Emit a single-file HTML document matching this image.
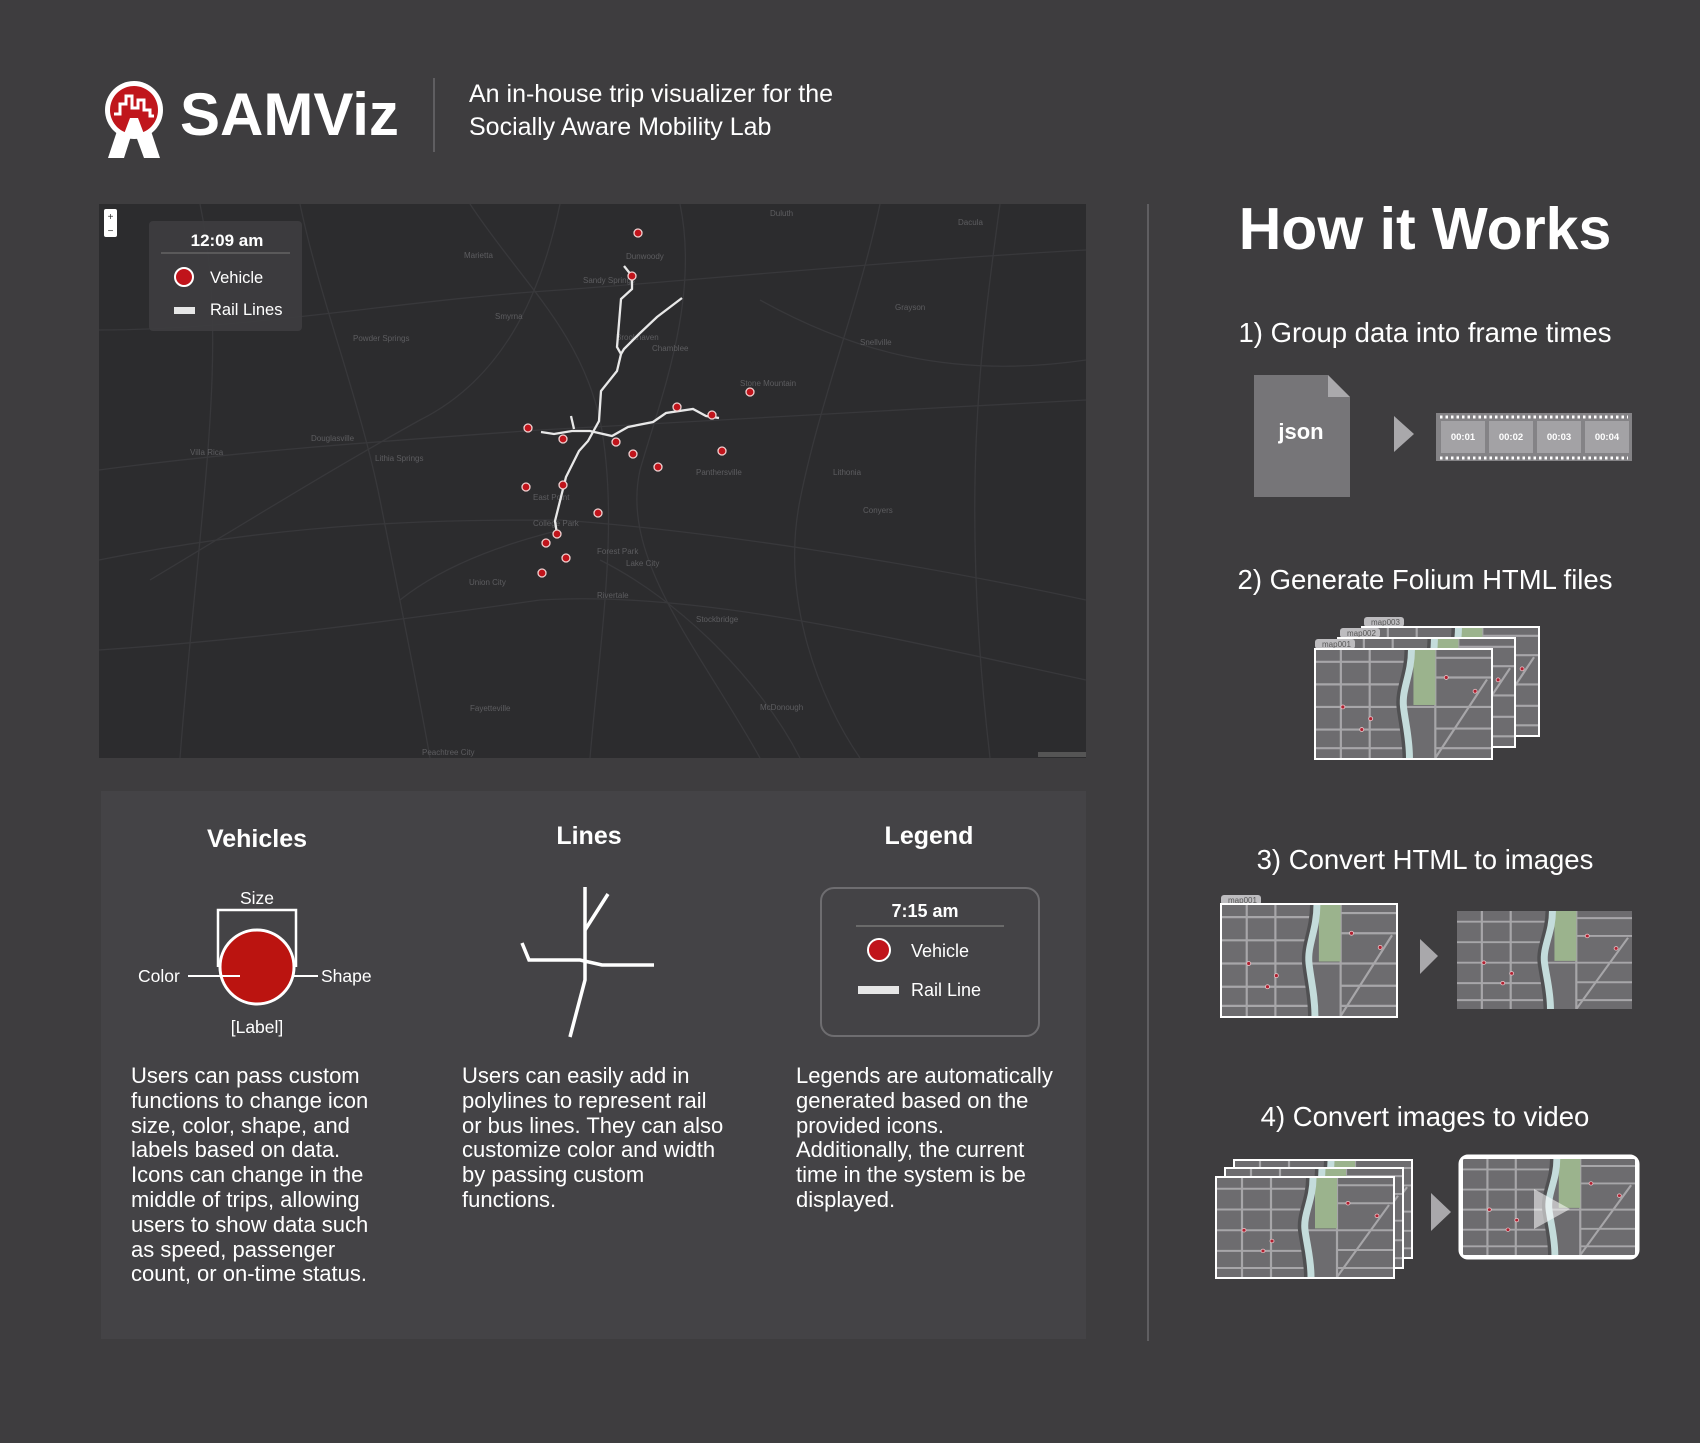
<!DOCTYPE html>
<html><head><meta charset="utf-8"><style>
body{margin:0;width:1700px;height:1443px;background:#3e3d3f;font-family:"Liberation Sans",Arial,sans-serif;color:#fff;position:relative;overflow:hidden}
.a{position:absolute}
.step{position:absolute;left:1160px;width:530px;text-align:center;font-size:27.5px}
.para{position:absolute;font-size:22px;line-height:24.8px;top:1064px}
.h{position:absolute;font-size:25px;font-weight:bold;text-align:center;width:200px}
</style></head><body>
<svg width="0" height="0" style="position:absolute">
<defs>
<symbol id="mini" viewBox="0 0 176 110" preserveAspectRatio="none">
<rect x="0" y="0" width="176" height="110" fill="#6d6c6f"/>
<g stroke="#a7a6a9" stroke-width="2.2" fill="none">
<line x1="0" y1="12" x2="90" y2="12"/><line x1="0" y1="35" x2="88" y2="35"/><line x1="0" y1="58" x2="88" y2="58"/><line x1="0" y1="81" x2="88" y2="81"/><line x1="0" y1="100" x2="90" y2="100"/>
<line x1="25" y1="0" x2="25" y2="110"/><line x1="54" y1="0" x2="54" y2="110"/>
<line x1="120" y1="0" x2="120" y2="110"/><line x1="120" y1="8" x2="176" y2="8"/><line x1="120" y1="28" x2="176" y2="28"/><line x1="88" y1="58" x2="176" y2="58"/><line x1="120" y1="80" x2="176" y2="80"/><line x1="120" y1="100" x2="176" y2="100"/>
<line x1="120" y1="110" x2="172" y2="30"/>
</g>
<rect x="98" y="0" width="22" height="56" fill="#9bb38d"/>
<path d="M94 0 C94 25 84 40 86 58 C88 75 92 90 92 110" stroke="#505052" stroke-width="10" fill="none"/>
<path d="M96 0 C96 25 86 40 88 58 C90 75 94 90 94 110" stroke="#c4dcdb" stroke-width="7" fill="none"/>
<g fill="#b02030" stroke="#e8c8cc" stroke-width=".8"><circle cx="27" cy="58" r="2"/><circle cx="55" cy="70" r="2"/><circle cx="46" cy="81" r="2"/><circle cx="131" cy="28" r="2"/><circle cx="160" cy="42" r="2"/></g>
</symbol>
</defs></svg>

<!-- header -->
<svg class="a" style="left:100px;top:78px" width="70" height="84" viewBox="0 0 70 84">
<path d="M18 50 L8 80 L24 80 L31 58 L36 58 L44 80 L60 80 L50 50 Z" fill="#fff"/>
<circle cx="34" cy="32" r="29" fill="#fff"/><circle cx="34" cy="32" r="24" fill="#c0161c"/>
<polyline points="14,36 20,36 20,26 26,26 26,18 32,18 32,30 38,30 38,22 44,22 44,32 50,32 50,38 54,38" stroke="#fff" stroke-width="3" fill="none"/>
<path d="M30 40 L24 56 L44 56 L38 40 Z" fill="#fff"/>
</svg>
<div class="a" style="left:180px;top:80px;font-size:60px;font-weight:bold">SAMViz</div>
<div class="a" style="left:433px;top:78px;width:2px;height:74px;background:#5f5e61"></div>
<div class="a" style="left:469px;top:78px;font-size:25px;line-height:33px">An in-house trip visualizer for the<br>Socially Aware Mobility Lab</div>

<!-- map -->
<svg class="a" style="left:99px;top:204px" width="987" height="554" viewBox="99 204 987 554">
<rect x="99" y="204" width="987" height="554" fill="#2c2c2e"/>
<g stroke="#38383b" stroke-width="1.3" fill="none">
<path d="M99 470 C250 450 400 440 540 430 C700 420 900 410 1086 400"/>
<path d="M99 560 C300 520 450 520 560 520 C700 530 900 560 1086 600"/>
<path d="M300 204 C320 300 360 400 380 500 C400 600 420 700 430 758"/>
<path d="M470 204 C520 280 580 330 600 420 C620 520 600 640 590 758"/>
<path d="M680 204 C700 300 660 400 640 470 C620 560 700 650 760 758"/>
<path d="M880 204 C860 300 820 400 800 500 C780 600 820 700 860 758"/>
<path d="M99 330 C250 330 400 300 560 290 C700 280 900 260 1086 250"/>
<path d="M99 650 C250 640 400 620 540 600 C700 590 900 640 1086 680"/>
<path d="M200 204 C230 350 200 500 180 758"/>
<path d="M1000 204 C980 350 960 500 990 758"/>
<path d="M560 204 C540 300 500 380 420 420 C330 470 250 520 150 580"/>
<path d="M760 300 C850 350 950 380 1086 360"/>
<path d="M600 560 C680 600 760 680 800 758"/>
<path d="M400 600 C450 560 520 540 560 530"/>
</g>
<g fill="#5d5d60" font-size="8" font-family="Liberation Sans,sans-serif">
<text x="464" y="258">Marietta</text><text x="495" y="319">Smyrna</text><text x="311" y="441">Douglasville</text><text x="190" y="455">Villa Rica</text>
<text x="353" y="341">Powder Springs</text><text x="375" y="461">Lithia Springs</text><text x="583" y="283">Sandy Springs</text><text x="626" y="259">Dunwoody</text>
<text x="652" y="351">Chamblee</text><text x="616" y="340">Brookhaven</text><text x="740" y="386">Stone Mountain</text><text x="696" y="475">Panthersville</text>
<text x="533" y="500">East Point</text><text x="533" y="526">College Park</text><text x="597" y="554">Forest Park</text><text x="626" y="566">Lake City</text>
<text x="469" y="585">Union City</text><text x="597" y="598">Rivertale</text><text x="696" y="622">Stockbridge</text><text x="760" y="710">McDonough</text>
<text x="422" y="755">Peachtree City</text><text x="470" y="711">Fayetteville</text><text x="833" y="475">Lithonia</text><text x="863" y="513">Conyers</text>
<text x="895" y="310">Grayson</text><text x="860" y="345">Snellville</text><text x="770" y="216">Duluth</text><text x="958" y="225">Dacula</text>
</g>
<g stroke="#e8e8e8" stroke-width="2.3" fill="none">
<polyline points="624,266 632,276 632,289 621,299 617,347 621,354 617,371 601,391 599,421 588,441 579,451 566,477 561,497 555,521 557,534"/>
<polyline points="682,298 657,317 639,334 624,349 621,354"/>
<polyline points="541,432 554,434 572,431 590,431 612,436 628,427 653,422 666,413 693,409 706,416 719,418"/>
<polyline points="571,416 574,429"/>
</g>
<g id="markers"></g>
<rect x="104" y="209" width="13" height="28" rx="2" fill="#fff"/>
<text x="110.5" y="220" font-size="10" text-anchor="middle" fill="#333">+</text><text x="110.5" y="234" font-size="10" text-anchor="middle" fill="#333">−</text>
<rect x="149" y="221" width="153" height="110" rx="4" fill="#3d3c3f" fill-opacity=".93"/>
<text x="227" y="246" font-size="17" font-weight="bold" fill="#fff" text-anchor="middle" font-family="Liberation Sans,sans-serif">12:09 am</text>
<line x1="161" y1="253" x2="290" y2="253" stroke="#777" stroke-width="1"/>
<circle cx="184" cy="277" r="9" fill="#c0141b" stroke="#fff" stroke-width="2"/>
<text x="210" y="283" font-size="16.5" fill="#fff" font-family="Liberation Sans,sans-serif">Vehicle</text>
<rect x="174" y="307" width="21" height="7" fill="#e6e6e6"/>
<text x="210" y="315" font-size="16.5" fill="#fff" font-family="Liberation Sans,sans-serif">Rail Lines</text>
<rect x="1038" y="752" width="48" height="5" fill="#555"/>
</svg>
<script>
const vehicleX=[638,632,750,677,712,528,563,616,633,722,658,526,563,598,557,546,566,542];
const vehicleY=[233,276,392,407,415,428,439,442,454,451,467,487,485,513,534,543,558,573];
const g=document.getElementById('markers');
vehicleX.forEach((x,i)=>{const c=document.createElementNS('http://www.w3.org/2000/svg','circle');


c.setAttribute('cx',x);c.setAttribute('cy',vehicleY[i]);c.setAttribute('r',4);
c.setAttribute('fill','#c0141b');c.setAttribute('stroke','#f0d0d0');c.setAttribute('stroke-width','1.3');g.appendChild(c);});
</script>

<!-- bottom panel -->
<div class="a" style="left:101px;top:791px;width:985px;height:548px;background:#444346"></div>
<div class="h" style="left:157px;top:825px">Vehicles</div>
<div class="h" style="left:489px;top:822px">Lines</div>
<div class="h" style="left:829px;top:822px">Legend</div>
<svg class="a" style="left:101px;top:791px" width="985" height="260" viewBox="101 791 985 260">
<polyline points="218,967 218,910 296,910 296,967" stroke="#fff" stroke-width="2.5" fill="none"/>
<circle cx="257" cy="967" r="37" fill="#bb1410" stroke="#fff" stroke-width="3"/>
<line x1="188" y1="976" x2="240" y2="976" stroke="#fff" stroke-width="2"/>
<line x1="294" y1="976" x2="318" y2="976" stroke="#fff" stroke-width="2"/>
<g font-family="Liberation Sans,sans-serif" font-size="17.5" fill="#fff">
<text x="257" y="904" text-anchor="middle">Size</text><text x="138" y="982">Color</text><text x="321" y="982">Shape</text><text x="257" y="1033" text-anchor="middle">[Label]</text>
</g>
<g stroke="#fff" stroke-width="3.5" fill="none">
<polyline points="585,887 585,980 570,1037"/><polyline points="585,930 608,894"/>
<polyline points="522,943 529,960 580,960 602,965 654,965"/>
</g>
<rect x="821" y="888" width="218" height="148" rx="13" fill="none" stroke="#6e6d70" stroke-width="2"/>
<text x="925" y="917" text-anchor="middle" font-size="18" font-weight="bold" fill="#fff" font-family="Liberation Sans,sans-serif">7:15 am</text>
<line x1="856" y1="926" x2="1004" y2="926" stroke="#777" stroke-width="1.5"/>
<circle cx="879" cy="950" r="11" fill="#c0141b" stroke="#fff" stroke-width="2"/>
<text x="911" y="957" font-size="18" fill="#fff" font-family="Liberation Sans,sans-serif">Vehicle</text>
<rect x="858" y="986" width="41" height="8" fill="#e6e6e6"/>
<text x="911" y="996" font-size="18" fill="#fff" font-family="Liberation Sans,sans-serif">Rail Line</text>
</svg>
<div class="para" style="left:131px">Users can pass custom<br>functions to change icon<br>size, color, shape, and<br>labels based on data.<br>Icons can change in the<br>middle of trips, allowing<br>users to show data such<br>as speed, passenger<br>count, or on-time status.</div>
<div class="para" style="left:462px">Users can easily add in<br>polylines to represent rail<br>or bus lines. They can also<br>customize color and width<br>by passing custom<br>functions.</div>
<div class="para" style="left:796px">Legends are automatically<br>generated based on the<br>provided icons.<br>Additionally, the current<br>time in the system is be<br>displayed.</div>

<div class="a" style="left:1147px;top:204px;width:2px;height:1137px;background:#5f5e61"></div>

<!-- how it works -->
<div class="a" style="left:1160px;width:530px;text-align:center;top:195px;font-size:59px;font-weight:bold">How it Works</div>
<div class="step" style="top:317px">1) Group data into frame times</div>
<div class="step" style="top:564px">2) Generate Folium HTML files</div>
<div class="step" style="top:844px">3) Convert HTML to images</div>
<div class="step" style="top:1101px">4) Convert images to video</div>

<svg class="a" style="left:1150px;top:360px" width="550" height="940" viewBox="1150 360 550 940">
<!-- step1 -->
<path d="M1254 375 L1328 375 L1350 397 L1350 497 L1254 497 Z" fill="#767578"/>
<path d="M1328 375 L1350 397 L1328 397 Z" fill="#aaa9ac"/>
<text x="1301" y="439" text-anchor="middle" font-size="22" font-weight="bold" fill="#fff" font-family="Liberation Sans,sans-serif">json</text>
<polygon points="1394,416 1414,434 1394,452" fill="#a9a8ab"/>
<rect x="1436" y="413" width="196" height="48" fill="#848386"/>
<line x1="1440" y1="417" x2="1628" y2="417" stroke="#fff" stroke-width="3" stroke-dasharray="2.5 3"/>
<line x1="1440" y1="458" x2="1628" y2="458" stroke="#fff" stroke-width="3" stroke-dasharray="2.5 3"/>
<g fill="#a3a2a5"><rect x="1441" y="421" width="44" height="32"/><rect x="1489" y="421" width="44" height="32"/><rect x="1537" y="421" width="44" height="32"/><rect x="1585" y="421" width="44" height="32"/></g>
<g font-size="9.5" font-weight="bold" fill="#fff" text-anchor="middle" font-family="Liberation Sans,sans-serif"><text x="1463" y="440">00:01</text><text x="1511" y="440">00:02</text><text x="1559" y="440">00:03</text><text x="1607" y="440">00:04</text></g>
<!-- step2 -->
<g font-size="8" fill="#555" font-family="Liberation Sans,sans-serif">
<rect x="1364" y="617" width="40" height="10" rx="3" fill="#bdbcbf"/><text x="1371" y="625">map003</text>
<rect x="1361" y="626" width="179" height="111" fill="#fff"/><use href="#mini" x="1363" y="628" width="175" height="107"/>
<rect x="1340" y="628" width="40" height="10" rx="3" fill="#bdbcbf"/><text x="1347" y="636">map002</text>
<rect x="1337" y="637" width="179" height="111" fill="#fff"/><use href="#mini" x="1339" y="639" width="175" height="107"/>
<rect x="1315" y="639" width="40" height="10" rx="3" fill="#bdbcbf"/><text x="1322" y="647">map001</text>
<rect x="1314" y="648" width="179" height="112" fill="#fff"/><use href="#mini" x="1316" y="650" width="175" height="108"/>
<!-- step3 -->
<rect x="1221" y="895" width="40" height="10" rx="3" fill="#bdbcbf"/><text x="1228" y="903">map001</text>
</g>
<rect x="1220" y="903" width="178" height="115" fill="#fff"/><use href="#mini" x="1222" y="905" width="174" height="111"/>
<polygon points="1420,939 1438,956 1420,974" fill="#a9a8ab"/>
<use href="#mini" x="1457" y="911" width="175" height="98"/>
<!-- step4 -->
<rect x="1233" y="1159" width="180" height="100" fill="#fff"/><use href="#mini" x="1235" y="1161" width="176" height="96"/>
<rect x="1224" y="1167" width="180" height="102" fill="#fff"/><use href="#mini" x="1226" y="1169" width="176" height="98"/>
<rect x="1215" y="1176" width="180" height="103" fill="#fff"/><use href="#mini" x="1217" y="1178" width="176" height="99"/>
<polygon points="1431,1193 1451,1212 1431,1231" fill="#a9a8ab"/>
<rect x="1460" y="1156" width="178" height="102" rx="8" fill="#fff"/>
<rect x="1463" y="1159" width="172" height="96" rx="6" fill="#6d6c6f"/>
<use href="#mini" x="1463" y="1159" width="172" height="96"/>
<rect x="1460" y="1156" width="178" height="102" rx="8" fill="none" stroke="#fff" stroke-width="3"/>
<polygon points="1534,1189 1570,1209 1534,1229" fill="#fff" fill-opacity=".55"/>
</svg>
</body></html>
